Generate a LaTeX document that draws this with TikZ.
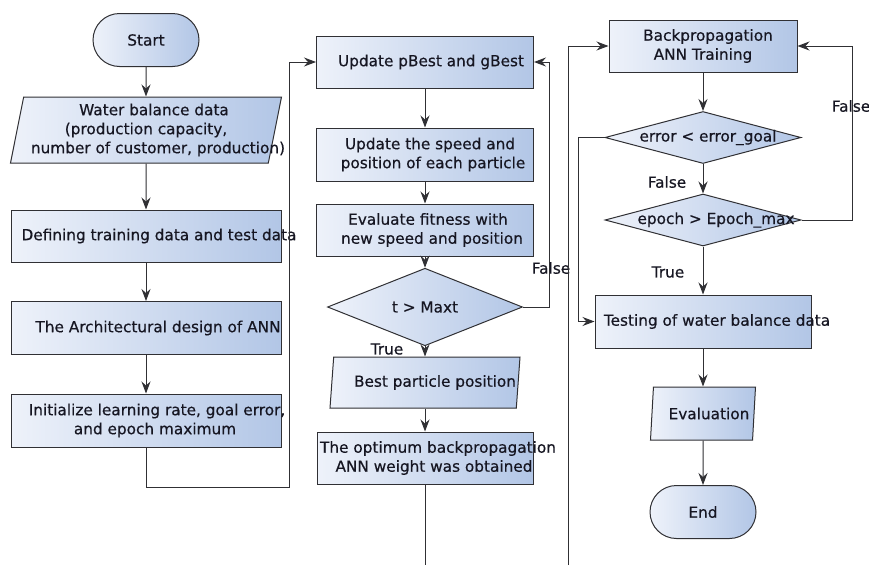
\documentclass[tikz,border=0pt]{standalone}
\usepackage{fontspec}
\setmainfont{DejaVu Sans}[BoldFont={DejaVu Sans}, BoldFeatures={FakeBold=0.5}]
\definecolor{boxLight}{RGB}{238,242,250}
\definecolor{boxDark}{RGB}{178,198,230}
\definecolor{lineGray}{RGB}{48,48,52}
\definecolor{textDark}{RGB}{22,22,34}
% text line that may run past the box, optionally moved right
\newcommand{\noWidth}[2][0pt]{\makebox[0pt]{\hspace*{#1}#2\hspace*{-#1}}}
\tikzset{
  baseShape/.style = {draw=lineGray, line width=1pt, left color=boxLight, right color=boxDark,
    text=textDark, font=\fontsize{15.3}{19}\selectfont\bfseries, align=center, inner sep=0pt},
  procBox/.style = {baseShape, rectangle, minimum width=#1, minimum height=52pt},
  procBox/.default = 217pt,
  termBox/.style = {baseShape, rounded rectangle, minimum width=106pt, minimum height=53pt},
  ioBox/.style = {baseShape, trapezium, trapezium left angle=76, trapezium right angle=104,
    trapezium stretches body, minimum width=#1},
  testBox/.style = {baseShape, diamond, minimum width=196pt, minimum height=52pt},
  flowLine/.style = {draw=lineGray, line width=1pt},
  flowArrow/.style = {flowLine, -{Stealth[length=12pt, width=9pt, inset=4pt]}},
  flowLabel/.style = {text=textDark, font=\fontsize{15.3}{19}\selectfont\bfseries, inner sep=0pt}
}
\usetikzlibrary{arrows.meta, calc, positioning, shapes}

\begin{document}
\begin{tikzpicture}[x=1pt, y=-1pt]
  \path[use as bounding box, fill=white] (0,0) rectangle (869,565);

  % first column
  \node[termBox] (start) at (146,40) {Start};
  \node[ioBox=271pt, minimum height=66pt] (waterData) at ($(start) + (0, 90)$)
    {\noWidth[8pt]{Water balance data}\\(production capacity,\\\noWidth[12pt]{number of customer, production)}};
  \node[procBox=270pt] (defineData) at ($(waterData) + (0, 106)$) {\noWidth[13pt]{Defining training data and test data}};
  \node[procBox=270pt, minimum height=53pt] (annDesign) at ($(defineData) + (0, 92)$) {\noWidth[12pt]{The Architectural design of ANN}};
  \node[procBox=270pt, minimum height=53pt] (initParam) at ($(annDesign) + (0, 92.5)$)
    {\noWidth[11pt]{Initialize learning rate, goal error,}\\\noWidth[9pt]{and epoch maximum}};

  \draw[flowArrow] (start) -- (waterData);
  \draw[flowArrow] (waterData) -- (defineData);
  \draw[flowArrow] (defineData) -- (annDesign);
  \draw[flowArrow] (annDesign) -- (initParam);

  % second column
  \node[procBox] (updateBest) at (425,62) {\noWidth[6pt]{Update pBest and gBest}};
  \node[procBox, minimum height=53pt] (updateSpeed) at ($(updateBest) + (0, 92.5)$)
    {\noWidth[5pt]{Update the speed and}\\\noWidth[8pt]{position of each particle}};
  \node[procBox] (evalFitness) at ($(updateSpeed) + (0, 75.5)$)
    {\noWidth[3pt]{Evaluate fitness with}\\\noWidth[7pt]{new speed and position}};
  \node[testBox, minimum width=195pt] (maxCheck) at ($(evalFitness) + (0, 77)$) {t > Maxt};
  \node[ioBox=190pt, minimum height=51pt] (bestPos) at ($(maxCheck) + (0, 75.5)$) {\noWidth[10pt]{Best particle position}};
  \node[procBox=216pt] (optimum) at ($(bestPos) + (0, 75.5)$)
    {\noWidth[13pt]{The optimum backpropagation}\\\noWidth[9pt]{ANN weight was obtained}};

  \coordinate (loopLeft) at (289,487);
  \coordinate (loopMid) at (549,62);
  \coordinate (cutLeft) at (425,565);

  \draw[flowArrow] (initParam.south) |- (loopLeft) |- (updateBest.west);
  \draw[flowArrow] (updateBest) -- (updateSpeed);
  \draw[flowArrow] (updateSpeed) -- (evalFitness);
  \draw[flowArrow] (evalFitness) -- (maxCheck);
  \draw[flowArrow] (maxCheck) -- (bestPos);
  \draw[flowArrow] (bestPos) -- (optimum);
  \draw[flowArrow] (maxCheck.east) -| (loopMid) -- (updateBest.east);
  \draw[flowLine] (optimum.south) -- (cutLeft);

  \node[flowLabel] (falseMax) at (551,268) {False};
  \node[flowLabel] (trueMax) at (387,349) {True};

  % third column
  \node[procBox=188pt] (backProp) at (703,46) {\noWidth[5pt]{Backpropagation}\\ANN Training};
  \node[testBox] (errCheck) at ($(backProp) + (0, 91.5)$) {\noWidth[5pt]{error < error\_goal}};
  \node[testBox] (epochCheck) at ($(errCheck) + (0, 82.5)$) {\noWidth[13pt]{epoch > Epoch\_max}};
  \node[procBox=216pt, minimum height=53pt] (testData) at ($(epochCheck) + (0, 101.5)$)
    {\noWidth[14pt]{Testing of water balance data}};
  \node[ioBox=105pt, minimum height=53pt] (evalOut) at ($(testData) + (0, 92)$) {\noWidth[6pt]{Evaluation}};
  \node[termBox] (finish) at ($(evalOut) + (0, 98.5)$) {End};

  \coordinate (cutRight) at (568,565);
  \coordinate (loopRight) at (852,46);
  \coordinate (loopErr) at (578,137.5);

  \draw[flowArrow] (cutRight) |- (backProp.west);
  \draw[flowArrow] (backProp) -- (errCheck);
  \draw[flowArrow] (errCheck) -- (epochCheck);
  \draw[flowArrow] (epochCheck) -- (testData);
  \draw[flowArrow] (testData) -- (evalOut);
  \draw[flowArrow] (evalOut) -- (finish);
  \draw[flowArrow] (epochCheck.east) -| (loopRight) -- (backProp.east);
  \draw[flowArrow] (errCheck.west) -- (loopErr) |- (testData.west);

  \node[flowLabel] (falseErr) at (667,182) {False};
  \node[flowLabel] (trueEpoch) at (668,272) {True};
  \node[flowLabel] (falseEpoch) at (851,106) {False};
\end{tikzpicture}
\end{document}
